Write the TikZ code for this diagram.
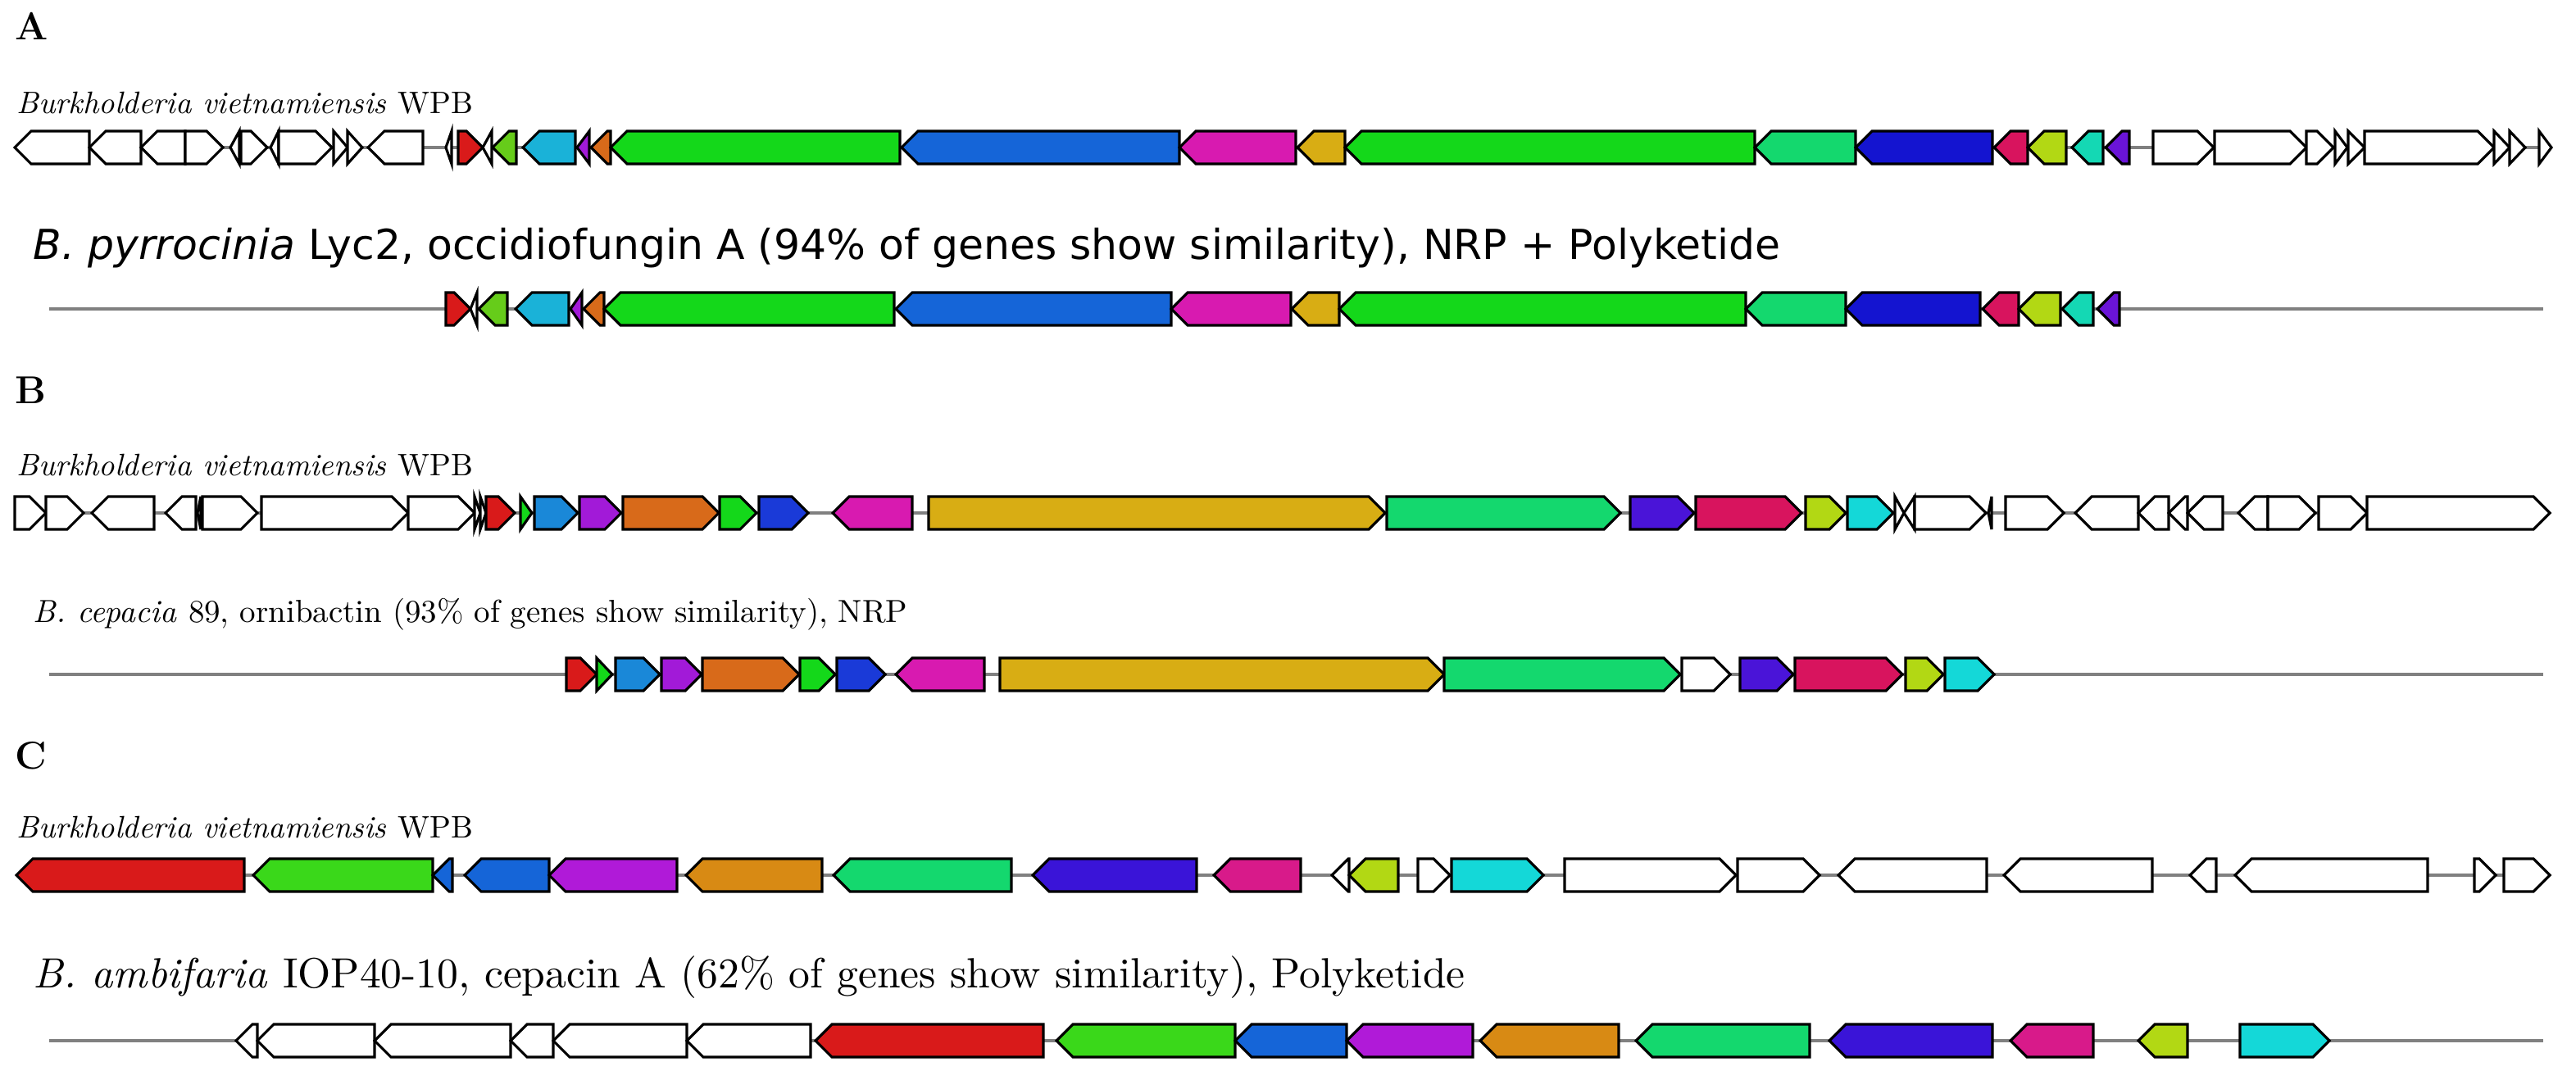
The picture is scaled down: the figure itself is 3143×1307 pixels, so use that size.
\documentclass[tikz,border=0pt]{standalone}
\usepackage{fontspec}
\newfontfamily\vsans{DejaVu Sans}
\definecolor{cRed}{HTML}{D91A1A}
\definecolor{cLime}{HTML}{66CC1A}
\definecolor{cCyan}{HTML}{1AB2D8}
\definecolor{cPur}{HTML}{A21AD8}
\definecolor{cOra}{HTML}{D86A1A}
\definecolor{cGrn}{HTML}{14D81A}
\definecolor{cBlu}{HTML}{1565D8}
\definecolor{cMag}{HTML}{D81AB0}
\definecolor{cGold}{HTML}{D8AD14}
\definecolor{cTeal}{HTML}{14D86E}
\definecolor{cDBlu}{HTML}{1414D0}
\definecolor{cCrim}{HTML}{D8145E}
\definecolor{cYG}{HTML}{B2D814}
\definecolor{cTurq}{HTML}{14D8B4}
\definecolor{cViol}{HTML}{6A14D8}
\definecolor{cBlu2}{HTML}{1A88D8}
\definecolor{cBlu3}{HTML}{1A3AD8}
\definecolor{cInd}{HTML}{4A14D8}
\definecolor{cTurq2}{HTML}{14D8D8}
\definecolor{cGrn2}{HTML}{3AD81A}
\definecolor{cPur2}{HTML}{B01AD8}
\definecolor{cOra2}{HTML}{D88A14}
\definecolor{cInd2}{HTML}{3A14D8}
\definecolor{cMag2}{HTML}{D81A8A}
\tikzset{gene/.style={draw=black,line width=0.9pt,line join=miter},
  backbone/.style={draw=black!50,line width=0.9pt},
  lbl/.style={anchor=west,inner sep=0pt}}
\newcommand\gR[4]{\pgfmathsetmacro\hh{min(20,#2-#1)}%
  \filldraw[gene,fill=#4] (#1,#3-20) -- ({#2-\hh},#3-20) -- (#2,#3) -- ({#2-\hh},#3+20) -- (#1,#3+20) -- cycle;}
\newcommand\gL[4]{\pgfmathsetmacro\hh{min(20,#2-#1)}%
  \filldraw[gene,fill=#4] (#2,#3-20) -- ({#1+\hh},#3-20) -- (#1,#3) -- ({#1+\hh},#3+20) -- (#2,#3+20) -- cycle;}
\begin{document}
\begin{tikzpicture}[x=0.01cm,y=-0.01cm]
\useasboundingbox (0,0) rectangle (3143,1307);
% ---------- A ----------
\node[lbl] (hA) at (18,32) {\fontsize{13.5}{16}\selectfont\bfseries A};
\node[lbl] (sA) at (20,126) {\resizebox{5.56cm}{!}{\itshape Burkholderia vietnamiensis\/ \upshape WPB}};
\node[lbl] (tA) at (40,303) {\resizebox{21.3cm}{!}{\vsans\itshape B. pyrrocinia\upshape\ Lyc2, occidiofungin A (94\% of genes show similarity), NRP + Polyketide}};
\draw[backbone] (18,180) -- (3113,180);
\def\y{180}
\gL{18}{109}{\y}{white}\gL{109}{172}{\y}{white}\gL{172}{226}{\y}{white}\gR{226}{272}{\y}{white}
\gL{281}{292}{\y}{white}\gR{294}{326}{\y}{white}\gL{330}{340}{\y}{white}\gR{340}{405}{\y}{white}
\gR{407}{424}{\y}{white}\gR{424}{442}{\y}{white}\gL{449}{516}{\y}{white}\gL{544}{551}{\y}{white}
\gR{559}{589}{\y}{cRed}\gL{589}{600}{\y}{white}\gL{601}{630}{\y}{cLime}\gL{638}{702}{\y}{cCyan}
\gL{704}{719}{\y}{cPur}\gL{721}{745}{\y}{cOra}\gL{745}{1098}{\y}{cGrn}\gL{1100}{1439}{\y}{cBlu}
\gL{1439}{1581}{\y}{cMag}\gL{1583}{1641}{\y}{cGold}\gL{1641}{2141}{\y}{cGrn}\gL{2141}{2264}{\y}{cTeal}
\gL{2264}{2431}{\y}{cDBlu}\gL{2433}{2474}{\y}{cCrim}\gL{2474}{2521}{\y}{cYG}\gL{2528}{2566}{\y}{cTurq}
\gL{2569}{2598}{\y}{cViol}\gR{2627}{2701}{\y}{white}\gR{2702}{2814}{\y}{white}\gR{2814}{2847}{\y}{white}
\gR{2849}{2864}{\y}{white}\gR{2865}{2885}{\y}{white}\gR{2885}{3043}{\y}{white}\gR{3043}{3062}{\y}{white}
\gR{3062}{3081}{\y}{white}\gR{3098}{3113}{\y}{white}
\draw[backbone] (60,377) -- (3103,377);
\def\y{377}
\gR{544}{574}{\y}{cRed}\gL{574}{582}{\y}{white}\gL{584}{619}{\y}{cLime}\gL{629}{694}{\y}{cCyan}
\gL{696}{710}{\y}{cPur}\gL{712}{737}{\y}{cOra}\gL{737}{1091}{\y}{cGrn}\gL{1093}{1429}{\y}{cBlu}
\gL{1429}{1575}{\y}{cMag}\gL{1576}{1634}{\y}{cGold}\gL{1634}{2130}{\y}{cGrn}\gL{2130}{2252}{\y}{cTeal}
\gL{2252}{2416}{\y}{cDBlu}\gL{2419}{2463}{\y}{cCrim}\gL{2463}{2514}{\y}{cYG}\gL{2516}{2554}{\y}{cTurq}
\gL{2559}{2586}{\y}{cViol}
% ---------- B ----------
\node[lbl] (hB) at (18,476) {\fontsize{13.5}{16}\selectfont\bfseries B};
\node[lbl] (sB) at (20,568) {\resizebox{5.56cm}{!}{\itshape Burkholderia vietnamiensis\/ \upshape WPB}};
\node[lbl] (tB) at (40,750) {\resizebox{10.66cm}{!}{\itshape B. cepacia\/ \upshape 89, ornibactin (93\% of genes show similarity), NRP}};
\draw[backbone] (18,626) -- (3111,626);
\def\y{626}
\gR{18}{56}{\y}{white}\gR{56}{102}{\y}{white}\gL{112}{188}{\y}{white}\gL{202}{239}{\y}{white}
\gL{241}{245}{\y}{white}\gR{247}{314}{\y}{white}\gR{319}{498}{\y}{white}\gR{498}{579}{\y}{white}
\gR{579}{586}{\y}{white}\gR{586}{593}{\y}{white}\gR{593}{628}{\y}{cRed}\gR{635}{649}{\y}{cGrn}
\gR{652}{705}{\y}{cBlu2}\gR{707}{758}{\y}{cPur}\gR{760}{877}{\y}{cOra}\gR{878}{923}{\y}{cGrn}
\gR{926}{986}{\y}{cBlu3}\gL{1016}{1113}{\y}{cMag}\gR{1133}{1690}{\y}{cGold}\gR{1692}{1977}{\y}{cTeal}
\gR{1989}{2067}{\y}{cInd}\gR{2069}{2198}{\y}{cCrim}\gR{2203}{2252}{\y}{cYG}\gR{2254}{2310}{\y}{cTurq2}
\gR{2312}{2323}{\y}{white}\gL{2323}{2336}{\y}{white}\gR{2336}{2423}{\y}{white}\gL{2426}{2430}{\y}{white}
\gR{2447}{2518}{\y}{white}\gL{2532}{2609}{\y}{white}\gL{2609}{2646}{\y}{white}\gL{2646}{2669}{\y}{white}
\gL{2669}{2712}{\y}{white}\gL{2731}{2767}{\y}{white}\gR{2767}{2825}{\y}{white}\gR{2829}{2888}{\y}{white}
\gR{2888}{3111}{\y}{white}
\draw[backbone] (60,823) -- (3103,823);
\def\y{823}
\gR{691}{728}{\y}{cRed}\gR{728}{747}{\y}{cGrn}\gR{751}{805}{\y}{cBlu2}\gR{807}{856}{\y}{cPur}
\gR{857}{975}{\y}{cOra}\gR{976}{1019}{\y}{cGrn}\gR{1021}{1080}{\y}{cBlu3}\gL{1093}{1201}{\y}{cMag}
\gR{1220}{1762}{\y}{cGold}\gR{1762}{2050}{\y}{cTeal}\gR{2052}{2111}{\y}{white}\gR{2123}{2188}{\y}{cInd}
\gR{2190}{2321}{\y}{cCrim}\gR{2325}{2371}{\y}{cYG}\gR{2373}{2433}{\y}{cTurq2}
% ---------- C ----------
\node[lbl] (hC) at (18,922) {\fontsize{13.5}{16}\selectfont\bfseries C};
\node[lbl] (sC) at (20,1010) {\resizebox{5.56cm}{!}{\itshape Burkholderia vietnamiensis\/ \upshape WPB}};
\node[lbl] (tC) at (40,1193) {\resizebox{17.46cm}{!}{\itshape B. ambifaria\/ \upshape IOP40-10, cepacin A (62\% of genes show similarity), Polyketide}};
\draw[backbone] (20,1068) -- (3111,1068);
\def\y{1068}
\gL{20}{298}{\y}{cRed}\gL{309}{528}{\y}{cGrn2}\gL{528}{552}{\y}{cBlu}\gL{567}{670}{\y}{cBlu}
\gL{670}{826}{\y}{cPur2}\gL{837}{1003}{\y}{cOra2}\gL{1017}{1234}{\y}{cTeal}\gL{1260}{1460}{\y}{cInd2}
\gL{1481}{1587}{\y}{cMag2}\gL{1625}{1646}{\y}{white}\gL{1646}{1706}{\y}{cYG}\gR{1730}{1769}{\y}{white}
\gR{1771}{1883}{\y}{cTurq2}\gR{1909}{2118}{\y}{white}\gR{2120}{2220}{\y}{white}\gL{2243}{2424}{\y}{white}
\gL{2445}{2626}{\y}{white}\gL{2672}{2704}{\y}{white}\gL{2727}{2962}{\y}{white}\gR{3019}{3045}{\y}{white}
\gR{3055}{3111}{\y}{white}
\draw[backbone] (60,1270) -- (3103,1270);
\def\y{1270}
\gL{288}{314}{\y}{white}\gL{314}{457}{\y}{white}\gL{457}{623}{\y}{white}\gL{623}{675}{\y}{white}
\gL{675}{838}{\y}{white}\gL{838}{989}{\y}{white}\gL{995}{1273}{\y}{cRed}\gL{1289}{1507}{\y}{cGrn2}
\gL{1507}{1643}{\y}{cBlu}\gL{1643}{1797}{\y}{cPur2}\gL{1806}{1975}{\y}{cOra2}\gL{1996}{2208}{\y}{cTeal}
\gL{2232}{2431}{\y}{cInd2}\gL{2453}{2554}{\y}{cMag2}\gL{2609}{2669}{\y}{cYG}\gR{2733}{2842}{\y}{cTurq2}
\end{tikzpicture}
\end{document}
